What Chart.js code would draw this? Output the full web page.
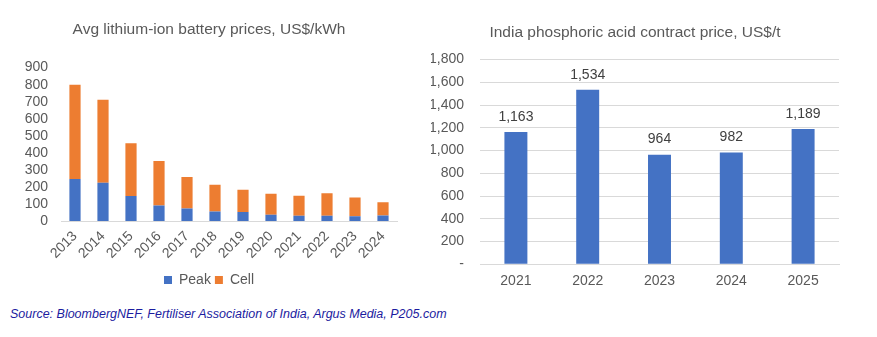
<!DOCTYPE html>
<html>
<head>
<meta charset="utf-8">
<script src="https://cdn.jsdelivr.net/npm/chart.js@4"></script>
<style>
  body { margin: 0; background: #fff; width: 877px; height: 337px; position: relative; overflow: hidden; }
  #leftBox { position: absolute; left: 0; top: 0; width: 420px; height: 300px; }
  #rightBox { position: absolute; left: 420px; top: 0; width: 457px; height: 300px; }
  #source { position: absolute; left: 10px; top: 307px; font: italic 12.5px "Liberation Sans", Arial, sans-serif; color: #1c1ca0; }
</style>
</head>
<body>
<div id="leftBox"><canvas id="batteryChart"></canvas></div>
<div id="rightBox"><canvas id="acidChart"></canvas></div>
<div id="source">Source: BloombergNEF, Fertiliser Association of India, Argus Media, P205.com</div>
<script>
// battery prices (US$/kWh)
const batteryYears = ["2013", "2014", "2015", "2016", "2017", "2018", "2019", "2020", "2021", "2022", "2023", "2024"];
const peakValues = [247, 225, 147, 91, 74, 56, 54, 37, 31, 31, 29, 33];
const cellValues = [553, 487, 310, 261, 185, 157, 130, 124, 118, 132, 110, 77];

// phosphoric acid contract price (US$/t)
const acidYears = ["2021", "2022", "2023", "2024", "2025"];
const acidPrices = [1163, 1534, 964, 982, 1189];

const FONT = "'Liberation Sans', Arial, sans-serif";
const TEXT = "#595959";
Chart.defaults.font.family = FONT;
Chart.defaults.color = TEXT;
Chart.defaults.animation = false;

// simple value labels above bars
const barLabels = {
    id: "barLabels",
    afterDatasetsDraw(chart) {
        const ctx = chart.ctx;
        const meta = chart.getDatasetMeta(0);
        ctx.save();
        ctx.font = "14px " + FONT;
        ctx.fillStyle = "#404040";
        ctx.textAlign = "center";
        ctx.textBaseline = "middle";
        meta.data.forEach((bar, i) => {
            const v = chart.data.datasets[0].data[i];
            ctx.fillText(v.toLocaleString("en-US"), bar.x, bar.y - 15);
        });
        ctx.restore();
    }
};

new Chart(document.getElementById("batteryChart"), {
    type: "bar",
    data: {
        labels: batteryYears,
        datasets: [
            { label: "Peak", data: peakValues, backgroundColor: "#4472C4", barPercentage: 0.4, categoryPercentage: 1 },
            { label: "Cell", data: cellValues, backgroundColor: "#ED7D31", barPercentage: 0.4, categoryPercentage: 1 }
        ]
    },
    options: {
        responsive: true,
        maintainAspectRatio: false,
        layout: { padding: { left: 21, right: 23, top: 0, bottom: 3 } },
        plugins: {
            title: {
                display: true,
                text: "Avg lithium-ion battery prices, US$/kWh",
                color: TEXT,
                font: { size: 15.5, weight: "normal" },
                padding: { top: 20, bottom: 29 }
            },
            legend: {
                position: "bottom",
                labels: { boxWidth: 8, boxHeight: 8, font: { size: 14 }, color: TEXT, padding: 4 }
            },
            tooltip: { enabled: false }
        },
        scales: {
            x: {
                stacked: true,
                grid: { display: false, drawTicks: false },
                border: { color: "#d9d9d9" },
                ticks: { font: { size: 14 }, color: TEXT, minRotation: 45, maxRotation: 45, autoSkip: false, padding: 7 }
            },
            y: {
                stacked: true,
                min: 0,
                max: 900,
                afterFit(scale) { scale.width = 40; },
                grid: { display: false, drawTicks: false },
                border: { display: false },
                ticks: { stepSize: 100, autoSkip: false, font: { size: 14 }, color: TEXT, padding: 13 }
            }
        }
    }
});

new Chart(document.getElementById("acidChart"), {
    type: "bar",
    data: {
        labels: acidYears,
        datasets: [
            { label: "Price", data: acidPrices, backgroundColor: "#4472C4", barPercentage: 0.32, categoryPercentage: 1 }
        ]
    },
    options: {
        responsive: true,
        maintainAspectRatio: false,
        layout: { padding: { left: 11, right: 38, top: 0, bottom: 1 } },
        plugins: {
            title: {
                display: true,
                text: "India phosphoric acid contract price, US$/t",
                color: TEXT,
                font: { size: 15.5, weight: "normal" },
                padding: { top: 23, bottom: 18 }
            },
            legend: { display: false },
            tooltip: { enabled: false }
        },
        scales: {
            x: {
                grid: { display: false, drawTicks: false },
                border: { color: "#d9d9d9" },
                ticks: { font: { size: 14 }, color: TEXT, padding: 9 }
            },
            y: {
                min: 0,
                max: 1800,
                afterFit(scale) { scale.width = 49; },
                grid: { color: "#d9d9d9", drawTicks: false },
                border: { display: false },
                ticks: {
                    stepSize: 200,
                    autoSkip: false,
                    font: { size: 14 },
                    color: TEXT,
                    padding: 16,
                    callback: v => v === 0 ? "-" : v.toLocaleString("en-US")
                }
            }
        }
    },
    plugins: [barLabels]
});
</script>
</body>
</html>
